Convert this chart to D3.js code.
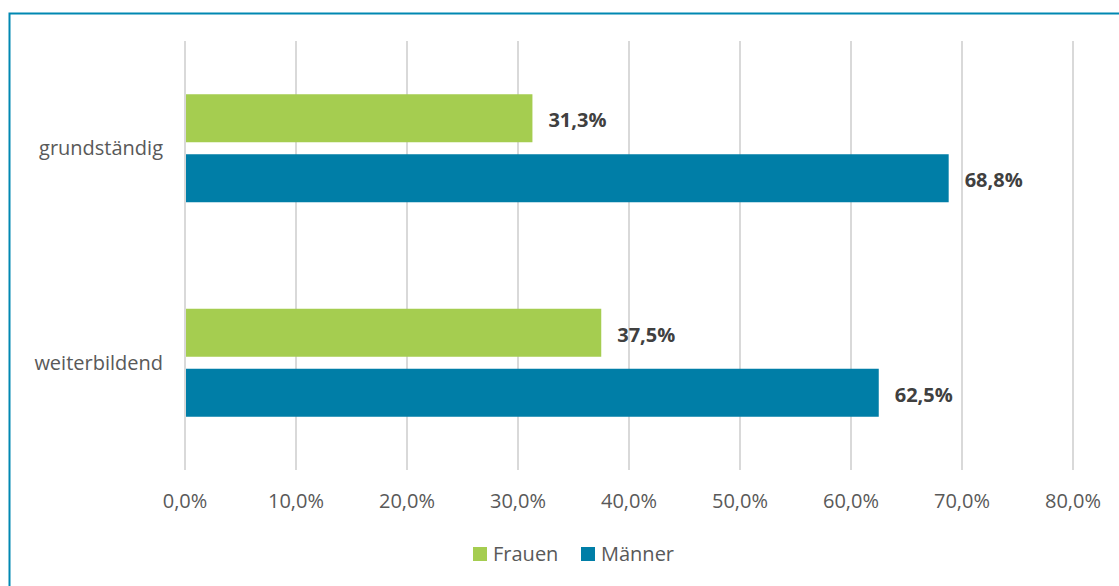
<!DOCTYPE html>
<html>
<head>
<meta charset="utf-8">
<script src="https://cdn.jsdelivr.net/npm/d3@7"></script>
<style>
  body { margin: 0; background: #fff; }
  svg { display: block; font-family: "Open Sans", sans-serif; }
</style>
</head>
<body>
<div id="chart"></div>
<script>
const categories = ["grundständig", "weiterbildend"];
const seriesNames = ["Frauen", "Männer"];
const frauen = [31.3, 37.5];
const maenner = [68.8, 62.5];
const ticks = [0, 10, 20, 30, 40, 50, 60, 70, 80];
const colors = ["#a5cd50", "#007ea7"];

const width = 1119, height = 586;
const margin = { top: 41, right: 46, bottom: 116, left: 185 };

const svg = d3.select("#chart").append("svg")
  .attr("width", width)
  .attr("height", height);

// frame
svg.append("rect")
  .attr("x", 9.5).attr("y", 13.5)
  .attr("width", width).attr("height", height)
  .attr("fill", "none")
  .attr("stroke", "#0088b2")
  .attr("stroke-width", 2);

const x = d3.scaleLinear()
  .domain([0, 80])
  .range([margin.left, width - margin.right]);

const y = d3.scaleBand()
  .domain(categories)
  .range([margin.top, height - margin.bottom]);

const sub = d3.scaleBand()
  .domain(seriesNames)
  .range([0, y.bandwidth()])
  .paddingInner(0.2)
  .paddingOuter(0.8875);

const fmt = (v) => v.toFixed(1).replace(".", ",") + "%";

// gridlines
svg.append("g")
  .selectAll("line")
  .data(ticks)
  .join("line")
  .attr("x1", (d) => x(d)).attr("x2", (d) => x(d))
  .attr("y1", margin.top).attr("y2", height - margin.bottom)
  .attr("stroke", "#d9d9d9")
  .attr("stroke-width", 2);

// tick labels
svg.append("g")
  .selectAll("text")
  .data(ticks)
  .join("text")
  .attr("x", (d) => x(d))
  .attr("y", 508)
  .attr("text-anchor", "middle")
  .attr("font-size", 20)
  .attr("fill", "#595959")
  .text((d) => fmt(d));

// category labels
svg.append("g")
  .selectAll("text")
  .data(categories)
  .join("text")
  .attr("x", 163)
  .attr("y", (d) => y(d) + y.bandwidth() / 2 + 7)
  .attr("text-anchor", "end")
  .attr("font-size", 20)
  .attr("fill", "#595959")
  .text((d) => d);

const rows = [];
categories.forEach((c, i) => {
  rows.push({ cat: c, series: "Frauen", value: frauen[i], color: colors[0] });
  rows.push({ cat: c, series: "Männer", value: maenner[i], color: colors[1] });
});

const bars = svg.append("g");

bars.selectAll("rect")
  .data(rows)
  .join("rect")
  .attr("x", x(0) + 1)
  .attr("y", (d) => y(d.cat) + sub(d.series))
  .attr("width", (d) => x(d.value) - x(0) - 1)
  .attr("height", sub.bandwidth())
  .attr("fill", (d) => d.color);

bars.selectAll("text")
  .data(rows)
  .join("text")
  .attr("x", (d) => x(d.value) + 16)
  .attr("y", (d) => y(d.cat) + sub(d.series) + sub.bandwidth() / 2 + 9)
  .attr("font-size", 20)
  .attr("font-weight", "bold")
  .attr("fill", "#404040")
  .text((d) => fmt(d.value));

// legend
const legend = svg.append("g");
const legendX = [473, 581];
seriesNames.forEach((name, i) => {
  legend.append("rect")
    .attr("x", legendX[i]).attr("y", 547)
    .attr("width", 14).attr("height", 14)
    .attr("fill", colors[i]);
  legend.append("text")
    .attr("x", legendX[i] + 20).attr("y", 561)
    .attr("font-size", 20)
    .attr("fill", "#595959")
    .text(name);
});
</script>
</body>
</html>
